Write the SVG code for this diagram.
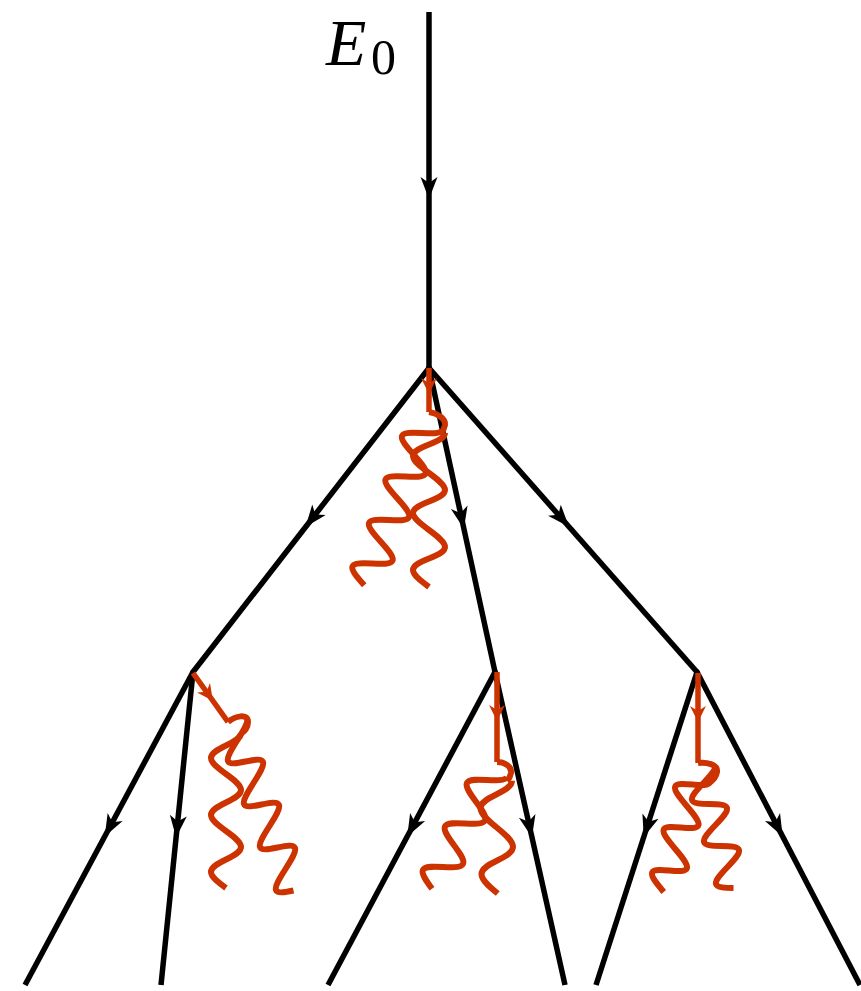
<svg xmlns="http://www.w3.org/2000/svg" width="861" height="991" viewBox="0 0 861 991">
<style>
.ln{fill:none;stroke:#000;stroke-width:5.5;stroke-linecap:butt;marker-mid:url(#ah)}
.jn{fill:#000}
.ra{fill:none;stroke:#cc3300;stroke-width:5.5;stroke-linecap:butt;marker-mid:url(#rh)}
.hk{fill:none;stroke:#cc3300;stroke-width:6;stroke-linecap:butt}
.w{fill:none;stroke:#cc3300;stroke-width:6;vector-effect:non-scaling-stroke;stroke-linecap:butt;stroke-linejoin:round}
.lbl{font-family:"Liberation Serif","Times New Roman",serif;fill:#000}
</style>
<defs>
<marker id="ah" markerUnits="userSpaceOnUse" markerWidth="40" markerHeight="40" viewBox="-20 -20 40 40" refX="0" refY="0" orient="auto">
<path d="M9,0 L-13,-8.5 L-7,0 L-13,8.5 Z" fill="#000"/>
</marker>
<marker id="rh" markerUnits="userSpaceOnUse" markerWidth="40" markerHeight="40" viewBox="-20 -20 40 40" refX="0" refY="0" orient="auto">
<path d="M4,0 L-12,-8 L-7,0 L-12,8 Z" fill="#cc3300"/>
</marker>
</defs>
<g id="label">
<text class="lbl" x="326" y="65" font-size="66" font-style="italic">E</text>
<text class="lbl" x="371" y="74" font-size="50">0</text>
</g>
<g id="connectors">
<path class="ln" d="M429,12 L429,190 L429,368"/>
<path class="ln" d="M429,368 L311,520 L193,672"/>
<path class="ln" d="M429,368 L462,520 L495,672"/>
<path class="ln" d="M429,368 L563,520 L697,672"/>
<path class="ln" d="M193,672 L109,828.5 L25,985"/>
<path class="ln" d="M193,672 L177,828.5 L161,985"/>
<path class="ln" d="M495,672 L411.5,828.5 L328,985"/>
<path class="ln" d="M495,672 L530,828.5 L565,985"/>
<path class="ln" d="M697,672 L646.5,828.5 L596,985"/>
<path class="ln" d="M697,672 L778.5,828.5 L860,985"/>
<circle class="jn" cx="429" cy="368" r="2.75"/>
<circle class="jn" cx="193" cy="672" r="2.75"/>
<circle class="jn" cx="495" cy="672" r="2.75"/>
<circle class="jn" cx="697" cy="672" r="2.75"/>
</g>
<g id="emission-top">
<path class="ra" d="M429,368 L429,390 L429,412"/>
<path class="hk" d="M429,412 C436,413 446,418 445,425 C444,430 442,432 441,433"/>
<path class="w" transform="matrix(-8.25,21.75,-15.9,-7.9,426.15,422.15)" d="M0,-1 C0.36,-1 0.64,1 1,1 C1.36,1 1.64,-1 2,-1 C2.36,-1 2.64,1 3,1 C3.36,1 3.64,-1 4,-1 C4.36,-1 4.64,1 5,1 C5.36,1 5.64,-1 6,-1 C6.36,-1 6.64,1 7,1 C7.18,1 7.34,0.5 7.5,0"/>
<path class="w" transform="matrix(0,28.5,-16,-2.75,429,430.25)" d="M0,-1 C0.36,-1 0.64,1 1,1 C1.36,1 1.64,-1 2,-1 C2.36,-1 2.64,1 3,1 C3.36,1 3.64,-1 4,-1 C4.36,-1 4.64,1 5,1 C5.18,1 5.34,0.5 5.5,0"/>
</g>
<g id="emission-left">
<path class="ra" d="M193,673 L210.5,697.5 L228,722"/>
<path class="hk" d="M228,722 C235,716 248,713 248,722 C248,728 244,732 241,733"/>
<path class="w" transform="matrix(0,28.5,-15,-1.75,226,731.25)" d="M0,-1 C0.36,-1 0.64,1 1,1 C1.36,1 1.64,-1 2,-1 C2.36,-1 2.64,1 3,1 C3.36,1 3.64,-1 4,-1 C4.36,-1 4.64,1 5,1 C5.18,1 5.34,0.5 5.5,0"/>
<path class="w" transform="matrix(8,21.5,-13.5,10.25,233.5,729.25)" d="M0,-1 C0.36,-1 0.64,1 1,1 C1.36,1 1.64,-1 2,-1 C2.36,-1 2.64,1 3,1 C3.36,1 3.64,-1 4,-1 C4.36,-1 4.64,1 5,1 C5.36,1 5.64,-1 6,-1 C6.36,-1 6.64,1 7,1 C7.18,1 7.34,0.5 7.5,0"/>
</g>
<g id="emission-middle">
<path class="ra" d="M497,672 L497,717 L497,762"/>
<path class="hk" d="M497,762 C504,762 512,766 511,773 C510,778 508,780 507,781"/>
<path class="w" transform="matrix(-11,21.75,-14.5,-7.9,492.5,769.1)" d="M0,-1 C0.36,-1 0.64,1 1,1 C1.36,1 1.64,-1 2,-1 C2.36,-1 2.64,1 3,1 C3.36,1 3.64,-1 4,-1 C4.36,-1 4.64,1 5,1 C5.18,1 5.34,0.5 5.5,0"/>
<path class="w" transform="matrix(0.5,33,-16,-2.75,496,778)" d="M0,-1 C0.36,-1 0.64,1 1,1 C1.36,1 1.64,-1 2,-1 C2.36,-1 2.64,1 3,1 C3.18,1 3.34,0.5 3.5,0"/>
</g>
<g id="emission-right">
<path class="ra" d="M698,673 L698,718 L698,763"/>
<path class="hk" d="M698,763 C706,762 718,764 717,772 C716,778 712,781 709,783"/>
<path class="w" transform="matrix(-5.75,21.5,-14.6,-8.25,695.4,773.75)" d="M0,-1 C0.36,-1 0.64,1 1,1 C1.36,1 1.64,-1 2,-1 C2.36,-1 2.64,1 3,1 C3.36,1 3.64,-1 4,-1 C4.36,-1 4.64,1 5,1 C5.18,1 5.34,0.5 5.5,0"/>
<path class="w" transform="matrix(6,21,-14.5,6.5,700.5,772.5)" d="M0,-1 C0.36,-1 0.64,1 1,1 C1.36,1 1.64,-1 2,-1 C2.36,-1 2.64,1 3,1 C3.36,1 3.64,-1 4,-1 C4.36,-1 4.64,1 5,1 C5.18,1 5.34,0.5 5.5,0"/>
</g>
</svg>
